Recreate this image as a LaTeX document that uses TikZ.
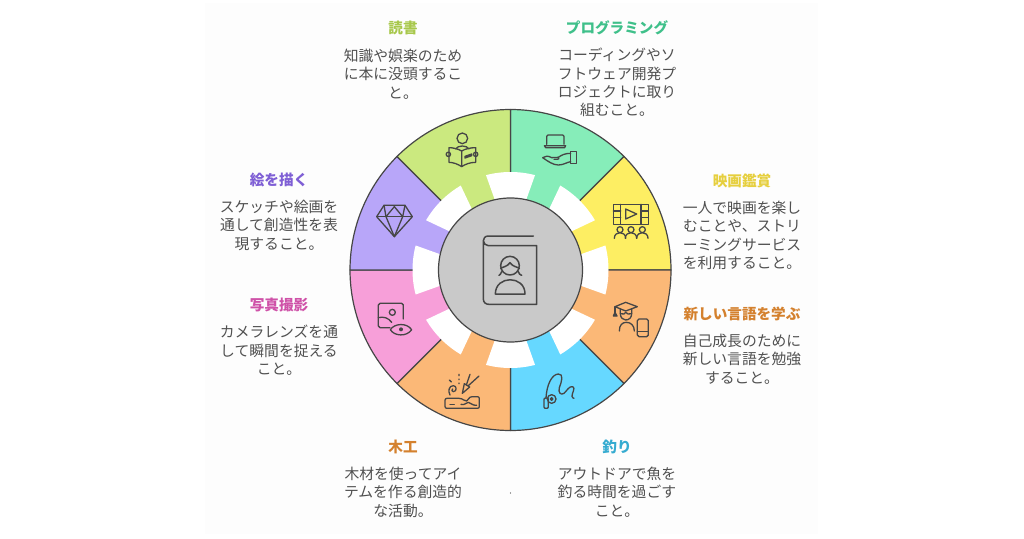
\documentclass[tikz,border=0pt]{standalone}
\usepackage{fontspec}
\setmainfont{Noto Sans CJK JP}
\usetikzlibrary{calc}
\definecolor{ink}{HTML}{464646}
\definecolor{bodytxt}{HTML}{505050}
\definecolor{segA}{HTML}{CBE97F}
\definecolor{segB}{HTML}{86EDB9}
\definecolor{segC}{HTML}{FDEE63}
\definecolor{segD}{HTML}{FBB877}
\definecolor{segE}{HTML}{66D8FF}
\definecolor{segF}{HTML}{FBB877}
\definecolor{segG}{HTML}{F79FD9}
\definecolor{segH}{HTML}{B8A6F9}
\definecolor{ttlA}{HTML}{A8C84C}
\definecolor{ttlB}{HTML}{3FC08A}
\definecolor{ttlC}{HTML}{E6CF3E}
\definecolor{ttlD}{HTML}{D4812E}
\definecolor{ttlE}{HTML}{35ABD0}
\definecolor{ttlF}{HTML}{D4812E}
\definecolor{ttlG}{HTML}{CF52A8}
\definecolor{ttlH}{HTML}{7F5FD5}
\tikzset{
  bodytext/.style={anchor=north,align=center,text=bodytxt,inner sep=0pt,
    font=\fontsize{14.8}{18.3}\selectfont},
  titletext/.style={anchor=center,inner sep=0pt,font=\fontsize{14.6}{16}\selectfont\bfseries},
  ico/.style={draw=ink,line width=1.3pt,line cap=round,line join=round},
  zoomed/.style={shift={#1},scale=0.33333},
}
\begin{document}
\begin{tikzpicture}[x=1pt,y=-1pt]
\useasboundingbox (0,0) rectangle (1024,538);
\fill[white] (0,0) rectangle (1024,538);
\fill[black!0.7] (205,3) rectangle (818,534);
% wheel
\begin{scope}[shift={(510.5,270)},y=1pt]
  \foreach \s/\c in {90/segB,45/segC,0/segD,-45/segE,-90/segF,-135/segG,-180/segH,-225/segA}{
    \pgfmathsetmacro{\e}{\s-45}
    \filldraw[fill=\c,draw=ink,line width=1.2pt,line join=round]
      (0,0) -- (\s:160.5pt) arc[start angle=\s,end angle=\e,radius=160.5pt] -- cycle;
  }
  \foreach \a in {0,45,...,315}{
    \pgfmathsetmacro{\p}{\a-14.5}
    \pgfmathsetmacro{\q}{\a+14.5}
    \pgfmathsetmacro{\pi}{\a-12.2}
    \pgfmathsetmacro{\qi}{\a+12.2}
    \fill[white] (\pi:68pt) -- (\p:98pt) arc[start angle=\p,end angle=\q,radius=98pt] -- (\qi:68pt) -- cycle;
  }
  \filldraw[fill=black!21,draw=ink,line width=1.2pt] (0,0) circle[radius=72pt];
\end{scope}
% centre icon
\begin{scope}[zoomed={(470,225)},y=1pt*-1,ico/.append style={line width=1.5pt}]
  \path[ico] (190,33) -- (55,33) .. controls (45,33) and (40,40) .. (40,47) -- (40,222)
    .. controls (40,232) and (47,238) .. (57,238) -- (200,238) -- (200,62) -- (55,62)
    .. controls (47,62) and (40,55) .. (40,47);
  \path[ico] (120,122) circle[radius=28];
  \path[ico] (92,130) .. controls (100,125) and (112,125) .. (120,113)
    .. controls (128,125) and (140,125) .. (148,130);
  \path[ico] (95,140) .. controls (93,146) and (90,150) .. (87,151);
  \path[ico] (145,140) .. controls (147,146) and (150,150) .. (155,151);
  \path[ico] (76,207) .. controls (76,150) and (165,150) .. (165,207) -- cycle;
\end{scope}
% reader
\begin{scope}[zoomed={(435,125)},y=1pt*-1]
  \path[ico] (82,40) circle[radius=16];
  \path[ico] (62,72) .. controls (68,60) and (96,60) .. (102,72);
  \path[ico] (80,78) .. controls (70,72) and (55,68) .. (42,68) -- (42,112)
    .. controls (55,112) and (70,118) .. (80,125)
    .. controls (90,118) and (105,112) .. (122,112) -- (122,68)
    .. controls (105,68) and (90,72) .. (80,78) -- (80,125);
  \path[ico] (40,88) circle[radius=6.5];
  \path[ico] (122,88) circle[radius=6.5];
  \path[ico] (90,94) -- (110,87) -- (110,92) -- (90,99) -- cycle;
\end{scope}
% laptop and hand
\begin{scope}[zoomed={(530,125)},y=1pt*-1]
  \path[ico] (50,58) -- (50,34) .. controls (50,31) and (52,30) .. (54,30) -- (98,30)
    .. controls (100,30) and (102,31) .. (102,34) -- (102,58);
  \path[ico] (43,62) -- (107,62) -- (104,68) -- (47,68) -- cycle;
  \path[ico] (122,80) -- (140,80) -- (140,116) -- (122,116) -- cycle;
  \path[ico] (122,85) .. controls (105,85) and (95,90) .. (85,97) -- (65,98)
    .. controls (55,92) and (45,92) .. (38,98)
    .. controls (55,110) and (70,120) .. (85,120)
    .. controls (100,120) and (110,112) .. (122,110);
  \path[ico] (85,97) .. controls (90,100) and (88,104) .. (72,103);
\end{scope}
% film
\begin{scope}[zoomed={(605,195)},y=1pt*-1]
  \path[ico] (25,28) rectangle (130,88);
  \path[ico] (47,28) -- (47,88) (108,28) -- (108,88);
  \path[ico] (25,48) -- (47,48) (25,68) -- (47,68) (108,48) -- (130,48) (108,68) -- (130,68);
  \path[ico] (62,42) -- (62,72) -- (95,57) -- cycle;
  \foreach \x in {45,78,112}{
    \path[ico] (\x,104) circle[radius=9];
    \path[ico] (\x-17,130) .. controls (\x-17,118) and (\x-8,113) .. (\x,113)
      .. controls (\x+8,113) and (\x+17,118) .. (\x+17,130);
  }
\end{scope}
% graduate
\begin{scope}[zoomed={(605,295)},y=1pt*-1]
  \path[ico] (30,35) -- (62,22) -- (97,35) -- (62,48) -- cycle;
  \path[ico] (30,35) -- (30,54);
  \path[ico,fill=ink] (30,52) -- (36,63) -- (25,63) -- cycle;
  \path[ico] (46,42) -- (46,56) .. controls (46,68) and (54,75) .. (62,75)
    .. controls (72,75) and (80,68) .. (80,56) -- (80,42);
  \path[ico] (46,56) .. controls (55,58) and (60,58) .. (62,52) .. controls (65,58) and (72,58) .. (80,56);
  \path[ico] (43,108) .. controls (43,90) and (52,82) .. (64,82) .. controls (78,82) and (88,92) .. (88,108);
  \path[ico] (97,77) .. controls (97,73) and (99,72) .. (102,72) -- (125,72)
    .. controls (128,72) and (130,73) .. (130,77) -- (130,120)
    .. controls (130,124) and (128,125) .. (125,125) -- (102,125)
    .. controls (99,125) and (97,124) .. (97,120) -- cycle;
  \path[ico] (97,110) -- (130,110);
\end{scope}
% fishing
\begin{scope}[zoomed={(530,365)},y=1pt*-1]
  \path[ico] (65,102) circle[radius=13];
  \path[ico] (65,102) circle[radius=4];
  \path[ico] (42,103) .. controls (42,100) and (44,99) .. (48,99) .. controls (53,99) and (55,100) .. (55,103)
    -- (55,126) .. controls (55,129) and (53,130) .. (48,130) .. controls (44,130) and (42,129) .. (42,126) -- cycle;
  \path[ico] (48,99) .. controls (50,60) and (65,28) .. (85,27)
    .. controls (102,26) and (95,50) .. (88,68)
    .. controls (84,82) and (92,92) .. (102,85)
    .. controls (110,78) and (118,62) .. (128,65)
    .. controls (138,68) and (125,85) .. (126,94) .. controls (127,98) and (130,100) .. (132,100);
\end{scope}
% woodwork
\begin{scope}[zoomed={(435,365)},y=1pt*-1]
  \path[ico] (36,100) -- (72,100) .. controls (85,100) and (88,110) .. (95,108)
    .. controls (102,105) and (100,95) .. (112,95) -- (127,95)
    .. controls (131,95) and (133,97) .. (133,101) -- (133,124)
    .. controls (133,128) and (131,130) .. (127,130) -- (36,130)
    .. controls (32,130) and (30,128) .. (30,124) -- (30,106)
    .. controls (30,102) and (32,100) .. (36,100) -- cycle;
  \path[ico] (45,118) -- (58,118);
  \path[ico] (78,118) .. controls (90,122) and (92,112) .. (100,112) .. controls (108,112) and (110,122) .. (125,121);
  \path[ico] (82,85) -- (88,56) -- (104,66) -- cycle;
  \path[ico] (94,60) -- (105,28);
  \path[ico] (100,62) -- (132,33);
  \path[ico] (72,28) -- (72,32) (72,42) -- (72,44) (72,54) -- (72,56) (43,45) -- (49,51);
  \path[ico] (45,90) .. controls (38,78) and (42,62) .. (55,62)
    .. controls (66,62) and (66,80) .. (55,80) .. controls (50,80) and (49,74) .. (53,72);
\end{scope}
% photo and eye
\begin{scope}[zoomed={(365,295)},y=1pt*-1]
  \path[ico] (75,98) -- (45,98) .. controls (42,98) and (40,96) .. (40,93) -- (40,30)
    .. controls (40,27) and (42,25) .. (45,25) -- (110,25)
    .. controls (113,25) and (115,27) .. (115,30) -- (115,72);
  \path[ico] (82,52) circle[radius=9];
  \path[ico] (40,68) .. controls (55,64) and (70,68) .. (80,82);
  \path[ico] (76,104) .. controls (88,85) and (125,82) .. (140,104)
    .. controls (125,126) and (88,124) .. (76,104) -- cycle;
  \fill[ink] (108,103) circle[radius=6];
\end{scope}
% diamond
\begin{scope}[zoomed={(360,100)},y=1pt*-1]
  \path[ico] (50,350) -- (72,316) -- (135,316) -- (157,350) -- (103,410) -- cycle;
  \path[ico] (50,350) -- (157,350);
  \path[ico] (72,316) -- (78,350) -- (103,410) -- (128,350) -- (135,316);
  \path[ico] (78,350) -- (103,320) -- (128,350);
\end{scope}
% texts
\node[titletext,text=ttlA] (t1) at (403,28) {読書};
\node[bodytext] (b1) at (403,49) {知識や娯楽のため\\に本に没頭するこ\\と。};
\node[titletext,text=ttlB] (t2) at (617,28) {プログラミング};
\node[bodytext] (b2) at (617,48) {コーディングやソ\\フトウェア開発プ\\ロジェクトに取り\\組むこと。};
\node[titletext,text=ttlC] (t3) at (742,181) {映画鑑賞};
\node[bodytext] (b3) at (742,201) {一人で映画を楽し\\むことや、ストリ\\ーミングサービス\\を利用すること。};
\node[titletext,text=ttlD] (t4) at (742,314) {新しい言語を学ぶ};
\node[bodytext] (b4) at (742,334) {自己成長のために\\新しい言語を勉強\\すること。};
\node[titletext,text=ttlE] (t5) at (617,447) {釣り};
\node[bodytext] (b5) at (617,467) {アウトドアで魚を\\釣る時間を過ごす\\こと。};
\node[titletext,text=ttlF] (t6) at (403,447) {木工};
\node[bodytext] (b6) at (403,467) {木材を使ってアイ\\テムを作る創造的\\な活動。};
\node[titletext,text=ttlG] (t7) at (279,305) {写真撮影};
\node[bodytext] (b7) at (279,325) {カメラレンズを通\\して瞬間を捉える\\こと。};
\node[titletext,text=ttlH] (t8) at (279,180) {絵を描く};
\node[bodytext] (b8) at (279,200) {スケッチや絵画を\\通して創造性を表\\現すること。};
\fill[ink] (510.5,493) circle[radius=0.6];
\end{tikzpicture}
\end{document}
